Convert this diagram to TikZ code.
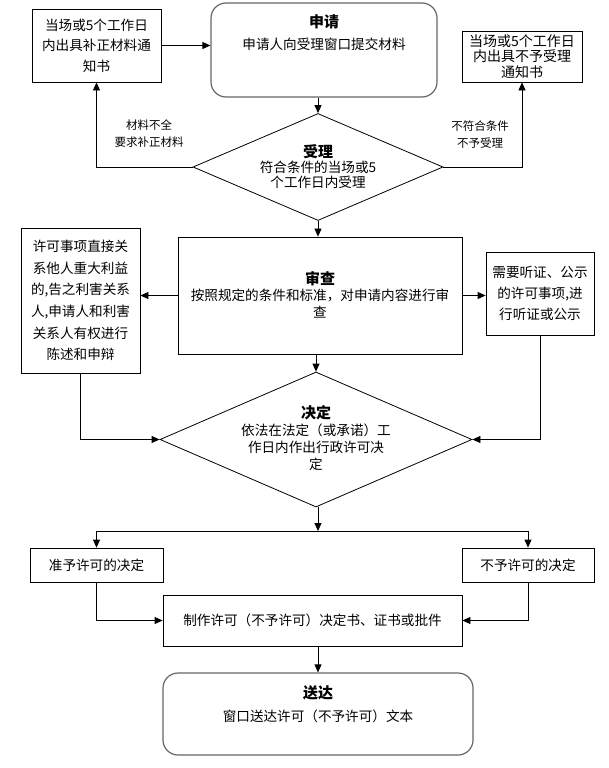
\documentclass[tikz,border=0pt]{standalone}
\usepackage{fontspec}
\setmainfont{Noto Sans CJK SC}
\usetikzlibrary{shapes.geometric,arrows.meta}
\begin{document}
\begin{tikzpicture}[x=1pt,y=-1pt,
  line width=0.8pt,
  box/.style={draw, rectangle, inner sep=0pt, align=center, font=\fontsize{13.6}{20.5}\selectfont},
  rbox/.style={draw=black!60, line width=1.2pt, rounded corners=15pt, rectangle, inner sep=0pt},
  dia/.style={draw, diamond, inner sep=0pt},
  txt/.style={align=center, inner sep=0pt, font=\fontsize{13.6}{16}\selectfont},
  lbl/.style={align=center, inner sep=0pt, font=\fontsize{11.5}{17}\selectfont},
  arr/.style={-{Triangle[length=8pt,width=7pt]}},
  hd/.style={}
]
\useasboundingbox (0,0) rectangle (608,768);
\newcommand{\hdtext}[1]{{\fontsize{15}{16}\selectfont\bfseries #1}}

% top row
\node[box, minimum width=129pt, minimum height=73pt] (fixL) at (96.5,45.5)
  {当场或5个工作日\\内出具补正材料通\\知书};
\node[rbox, minimum width=226pt, minimum height=94pt] (apply) at (324,50) {};
\node[txt, font=\fontsize{13.6}{22}\selectfont] (applyT) at (324,33)
  {\hdtext{申请}\\申请人向受理窗口提交材料};
\node[box, minimum width=120pt, minimum height=51pt, font=\fontsize{14}{15.5}\selectfont] (fixR) at (522,56.5)
  {当场或5个工作日\\内出具不予受理\\通知书};

% accept diamond
\node[dia, minimum width=250pt, minimum height=107pt, aspect=2.34] (acc) at (318,167) {};
\node[txt, font=\fontsize{13.6}{15}\selectfont] (accT) at (318,167)
  {\hdtext{受理}\\符合条件的当场或5\\个工作日内受理};
\node[lbl] (lblL) at (149,134) {材料不全\\要求补正材料};
\node[lbl] (lblR) at (480,135) {不符合条件\\不予受理};

% review
\node[box, minimum width=284pt, minimum height=117pt] (review) at (320,295.5) {};
\node[txt, font=\fontsize{13.6}{16.5}\selectfont] (reviewT) at (320,294.5)
  {\hdtext{审查}\\按照规定的条件和标准，对申请内容进行审\\查};
\node[box, minimum width=119pt, minimum height=145pt, font=\fontsize{13.6}{21.6}\selectfont] (leftB) at (80.5,300.5)
  {许可事项直接关\\系他人重大利益\\的,告之利害关系\\人,申请人和利害\\关系人有权进行\\陈述和申辩};
\node[box, minimum width=108pt, minimum height=83pt, font=\fontsize{13.6}{21}\selectfont] (rightB) at (540,293.5)
  {需要听证、公示\\的许可事项,进\\行听证或公示};

% decide diamond
\node[dia, minimum width=312pt, minimum height=135pt, aspect=2.31] (dec) at (316,439.5) {};
\node[txt, font=\fontsize{13.6}{16.7}\selectfont] (decT) at (316,438)
  {\hdtext{决定}\\依法在法定（或承诺）工\\作日内作出行政许可决\\定};

% outcome
\coordinate (split) at (318,531);
\node[box, minimum width=133pt, minimum height=34pt] (grant) at (96.5,565) {准予许可的决定};
\node[box, minimum width=132pt, minimum height=34pt] (deny) at (528,565) {不予许可的决定};
\node[box, minimum width=299pt, minimum height=51pt] (make) at (312.5,620.5)
  {制作许可（不予许可）决定书、证书或批件};
\node[rbox, minimum width=310pt, minimum height=82pt] (deliver) at (318,714) {};
\node[txt, font=\fontsize{13.6}{23}\selectfont] (deliverT) at (318,704)
  {\hdtext{送达}\\窗口送达许可（不予许可）文本};

% connectors
\draw[arr] (fixL.east) -- (fixL.east -| apply.west);
\draw[arr] (acc.north |- apply.south) -- (acc.north);
\draw[arr] (acc.west) -| (fixL.south);
\draw[arr] (acc.east) -| (fixR.south);
\draw[arr] (acc.south) -- (acc.south |- review.north);
\draw[arr] (review.west) -- (review.west -| leftB.east);
\draw[arr] (review.east) -- (review.east -| rightB.west);
\draw[arr] (dec.north |- review.south) -- (dec.north);
\draw[arr] (leftB.south) |- (dec.west);
\draw[arr] (rightB.south) |- (dec.east);
\draw[arr] (dec.south -| split) -- (split);
\draw[arr] (split) -| (grant.north);
\draw[arr] (split) -| (deny.north);
\draw[arr] (grant.south) |- (make.west);
\draw[arr] (deny.south) |- (make.east);
\draw[arr] (deliver.north |- make.south) -- (deliver.north);
\end{tikzpicture}
\end{document}
